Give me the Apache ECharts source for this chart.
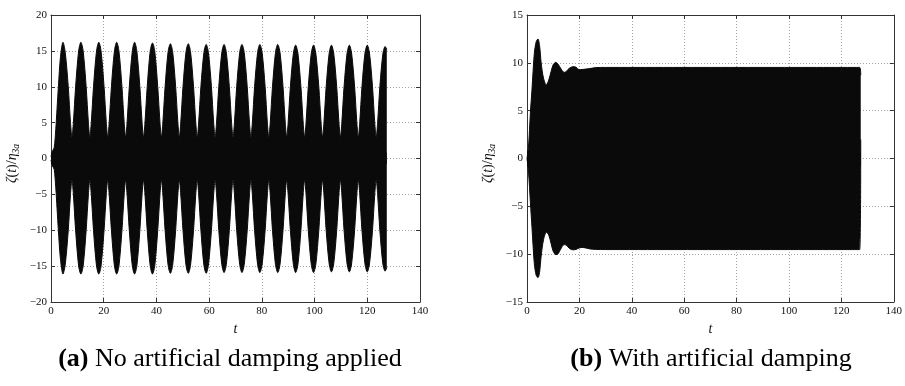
<!DOCTYPE html>
<html><head><meta charset="utf-8">
<script src="https://cdn.jsdelivr.net/npm/echarts@6/dist/echarts.min.js"></script>
<style>html,body{margin:0;padding:0;background:#fff}#c{width:905px;height:386px}</style>
</head><body><div id="c"></div>
<script>
// ---- Panel (a): envelope of the oscillation (no damping) ----
const tA = [0,0.5,1.2,1.8,2.3,2.8,3.6,4.55,5.4,6.55,7.4,7.95,
 8.49,9.34,10.49,11.34,12.19,13.34,14.19,14.74,
 15.28,16.13,17.28,18.13,18.98,20.13,20.98,21.53,
 22.07,22.92,24.07,24.92,25.77,26.92,27.77,28.32,
 28.86,29.71,30.86,31.71,32.56,33.71,34.56,35.11,
 35.65,36.5,37.65,38.5,39.35,40.5,41.35,41.9,
 42.44,43.29,44.44,45.29,46.14,47.29,48.14,48.69,
 49.23,50.08,51.23,52.08,52.93,54.08,54.93,55.48,
 56.02,56.87,58.02,58.87,59.72,60.87,61.72,62.27,
 62.81,63.66,64.81,65.66,66.51,67.66,68.51,69.06,
 69.6,70.45,71.6,72.45,73.3,74.45,75.3,75.85,
 76.39,77.24,78.39,79.24,80.09,81.24,82.09,82.64,
 83.18,84.03,85.18,86.03,86.88,88.03,88.88,89.43,
 89.97,90.82,91.97,92.82,93.67,94.82,95.67,96.22,
 96.76,97.61,98.76,99.61,100.46,101.61,102.46,103.01,
 103.55,104.4,105.55,106.4,107.25,108.4,109.25,109.8,
 110.34,111.19,112.34,113.19,114.04,115.19,116.04,116.59,
 117.13,117.98,119.13,119.98,120.83,121.98,122.83,123.38,
 123.92,124.77,125.92,126.77,127.4];
const upA = [0.2,1.0,1.5,4.0,7.0,10.0,14.2,16.2,14.8,10.0,5.0,3.0,
 5.0,10.0,15.0,16.2,15.0,10.0,5.0,3.0,
 5.0,10.0,15.0,16.2,15.0,10.0,5.0,3.0,
 5.0,10.0,15.0,16.2,15.0,10.0,5.0,3.0,
 5.0,10.0,15.0,16.2,15.0,10.0,5.0,3.0,
 5.0,10.0,15.0,16.1,15.0,10.0,5.0,3.0,
 5.0,10.0,14.9,16.0,14.9,10.0,5.0,3.0,
 5.0,10.0,14.9,16.0,14.9,10.0,5.0,3.0,
 5.0,10.0,14.8,15.9,14.8,10.0,5.0,3.0,
 5.0,10.0,14.8,15.9,14.8,10.0,5.0,3.0,
 5.0,10.0,14.8,15.9,14.8,10.0,5.0,3.0,
 5.0,10.0,14.8,15.9,14.8,10.0,5.0,3.0,
 5.0,10.0,14.8,15.9,14.8,10.0,5.0,3.0,
 5.0,10.0,14.7,15.8,14.7,10.0,5.0,3.0,
 5.0,10.0,14.7,15.8,14.7,10.0,5.0,3.0,
 5.0,10.0,14.7,15.8,14.7,10.0,5.0,3.0,
 5.0,10.0,14.7,15.8,14.7,10.0,5.0,3.0,
 5.0,10.0,14.7,15.8,14.7,10.0,5.0,3.0,
 5.0,10.0,14.6,15.6,15.2];
const loA = [-0.2,-1.0,-1.5,-4.0,-7.0,-10.0,-14.1,-16.1,-14.8,-10.0,-5.0,-3.0,
 -5.0,-10.0,-15.0,-16.1,-15.0,-10.0,-5.0,-3.0,
 -5.0,-10.0,-15.0,-16.1,-15.0,-10.0,-5.0,-3.0,
 -5.0,-10.0,-15.0,-16.1,-15.0,-10.0,-5.0,-3.0,
 -5.0,-10.0,-15.0,-16.1,-15.0,-10.0,-5.0,-3.0,
 -5.0,-10.0,-15.0,-16.1,-15.0,-10.0,-5.0,-3.0,
 -5.0,-10.0,-14.9,-16.0,-14.9,-10.0,-5.0,-3.0,
 -5.0,-10.0,-14.9,-16.0,-14.9,-10.0,-5.0,-3.0,
 -5.0,-10.0,-14.9,-16.0,-14.9,-10.0,-5.0,-3.0,
 -5.0,-10.0,-14.8,-15.9,-14.8,-10.0,-5.0,-3.0,
 -5.0,-10.0,-14.8,-15.9,-14.8,-10.0,-5.0,-3.0,
 -5.0,-10.0,-14.8,-15.9,-14.8,-10.0,-5.0,-3.0,
 -5.0,-10.0,-14.8,-15.9,-14.8,-10.0,-5.0,-3.0,
 -5.0,-10.0,-14.8,-15.9,-14.8,-10.0,-5.0,-3.0,
 -5.0,-10.0,-14.8,-15.9,-14.8,-10.0,-5.0,-3.0,
 -5.0,-10.0,-14.7,-15.8,-14.7,-10.0,-5.0,-3.0,
 -5.0,-10.0,-14.7,-15.8,-14.7,-10.0,-5.0,-3.0,
 -5.0,-10.0,-14.7,-15.8,-14.7,-10.0,-5.0,-3.0,
 -5.0,-10.0,-14.7,-15.7,-15.2];

// ---- Panel (b): envelope of the oscillation (with damping) ----
const tB  = [0,0.6,1.3,1.9,2.8,3.5,4.2,4.8,5.4,6.3,7.4,8.3,9.2,10.0,11.0,11.9,12.8,14.2,15.2,16.2,17.6,18.7,19.9,21.0,22.4,24.0,26.2,30.0,127.0,127.4];
const upB = [0,1.3,4.8,7.2,11.0,12.2,12.5,11.8,10.0,8.4,7.7,8.2,9.1,9.8,10.05,9.85,9.45,9.0,9.15,9.45,9.6,9.55,9.3,9.3,9.35,9.4,9.5,9.52,9.52,8.7];
const loB = [0,-1.5,-4.6,-7.2,-11.0,-12.2,-12.45,-11.9,-10.2,-8.5,-7.7,-8.0,-8.9,-9.7,-10.05,-9.95,-9.5,-9.0,-9.1,-9.4,-9.55,-9.5,-9.35,-9.3,-9.35,-9.45,-9.5,-9.52,-9.52,2.0];

// ---- Axes / labels ----
const xTicks = {min:0, max:140, interval:20};
const yTicksA = {min:-20, max:20, interval:5};
const yTicksB = {min:-15, max:15, interval:5};
const captions = ['{b|(a)} No artificial damping applied', '{b|(b)} With artificial damping'];
const xName = 't';
const yName = '{i|ζ}{r|(}{i|t}{r|)/}{i|η}{s|3a}';

const pairs = (t, v) => t.map((x, i) => [x, v[i]]);
const SERIF = '"Liberation Serif", "DejaVu Serif", serif';
const fmt = v => v < 0 ? '\u2212' + (-v) : String(v);
const lblStyle = {fontFamily: SERIF, fontSize: 11, color: '#111'};
const gridLine = {show:true, lineStyle:{color:'#8a8a8a', width:0.8, type:[1,2]}};
const frameLine = {show:true, onZero:false, lineStyle:{color:'#333', width:1}};
const tick = {show:true, inside:true, length:4, lineStyle:{color:'#333', width:1}};
const INK = '#0a0a0a';

function xAx(gi, pos, main) {
  return Object.assign({type:'value', gridIndex:gi, position:pos,
    axisLine: frameLine, axisTick: tick,
    axisLabel: main ? Object.assign({margin:4, formatter: fmt}, lblStyle) : {show:false},
    splitLine: main ? gridLine : {show:false},
    name: main ? xName : '', nameLocation:'middle', nameGap: 17,
    nameTextStyle: {fontFamily: SERIF, fontStyle:'italic', fontSize: 14, color:'#111'}
  }, xTicks);
}
const richY = {
  i:{fontFamily:SERIF, fontStyle:'italic', fontSize:14, color:'#111', lineHeight:18, verticalAlign:'middle'},
  r:{fontFamily:SERIF, fontSize:14, color:'#111', lineHeight:18, verticalAlign:'middle'},
  s:{fontFamily:SERIF, fontStyle:'italic', fontSize:9.5, color:'#111', lineHeight:18, verticalAlign:'bottom'}
};
function yAx(gi, pos, main, ticks) {
  return Object.assign({type:'value', gridIndex:gi, position:pos,
    axisLine: frameLine, axisTick: tick,
    axisLabel: main ? Object.assign({margin:4, formatter: fmt}, lblStyle) : {show:false},
    splitLine: main ? gridLine : {show:false},
    name: main ? yName : '', nameLocation:'middle', nameGap: 30, nameRotate: 90,
    nameTextStyle: {rich: richY, fontSize:14, padding:[0,10,0,0]}
  }, ticks);
}
// Each envelope half is filled towards a level slightly past zero so the two halves overlap (no seam).
function band(xi, yi, data, origin) {
  return {type:'line', xAxisIndex:xi, yAxisIndex:yi, data:data, symbol:'none', smooth:0.3,
    lineStyle:{color:INK, width:1}, areaStyle:{color:INK, opacity:1, origin:origin}, z:3};
}

const chart = echarts.init(document.getElementById('c'), null, {renderer:'canvas'});
chart.setOption({
  animation:false,
  backgroundColor:'#fff',
  grid:[
    {left:51, top:15, width:369, height:287},
    {left:527, top:15, width:371, height:287}
  ],
  xAxis:[xAx(0,'bottom',true), xAx(1,'bottom',true), xAx(0,'top',false), xAx(1,'top',false)],
  yAxis:[yAx(0,'left',true,yTicksA), yAx(1,'left',true,yTicksB), yAx(0,'right',false,yTicksA), yAx(1,'right',false,yTicksB)],
  series:[
    band(0,0,pairs(tA, upA), -0.8), band(0,0,pairs(tA, loA), 0.8),
    band(1,1,pairs(tB, upB), -0.8), band(1,1,pairs(tB, loB), 0.8)
  ],
  graphic:[
    {type:'text', x:230, y:359, style:{text:captions[0], align:'center', verticalAlign:'middle',
      fontFamily:SERIF, fontSize:26, fill:'#000', rich:{b:{fontFamily:SERIF, fontSize:26, fontWeight:'bold', fill:'#000'}}}},
    {type:'text', x:711, y:359, style:{text:captions[1], align:'center', verticalAlign:'middle',
      fontFamily:SERIF, fontSize:26, fill:'#000', rich:{b:{fontFamily:SERIF, fontSize:26, fontWeight:'bold', fill:'#000'}}}}
  ]
});
</script></body></html>
